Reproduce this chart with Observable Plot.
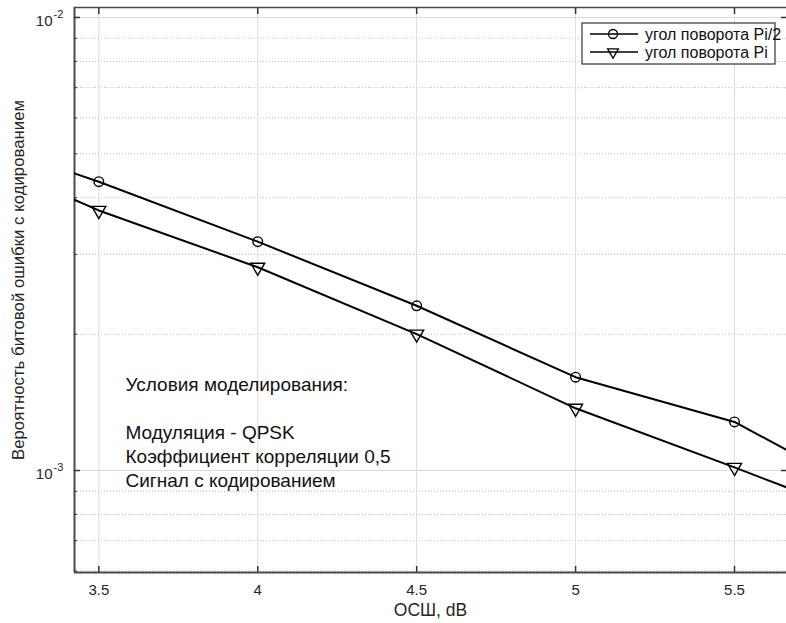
<!DOCTYPE html>
<html>
<head>
<meta charset="utf-8">
<script src="https://cdn.jsdelivr.net/npm/d3@7"></script>
<script src="https://cdn.jsdelivr.net/npm/@observablehq/plot@0.6"></script>
<style>
  html, body { margin: 0; padding: 0; background: #fff; }
  #chart { width: 786px; height: 623px; overflow: hidden; }
</style>
</head>
<body>
<div id="chart"></div>
<script>
// ---- data ----
const snr = [3.0, 3.5, 4.0, 4.5, 5.0, 5.5, 6.0];
const berPi2 = [5.71e-3, 4.34e-3, 3.20e-3, 2.31e-3, 1.607e-3, 1.28e-3, 8.3e-4];
const berPi = [5.35e-3, 3.75e-3, 2.81e-3, 2.00e-3, 1.372e-3, 1.016e-3, 7.45e-4];
const seriesNames = ["угол поворота Pi/2", "угол поворота Pi"];
const xTicks = [3.5, 4, 4.5, 5, 5.5];
const xTickLabels = ["3.5", "4", "4.5", "5", "5.5"];
const yMajor = [0.001, 0.01];
const yMajorExp = ["-3", "-2"];
const yMinor = [6e-4, 7e-4, 8e-4, 9e-4, 2e-3, 3e-3, 4e-3, 5e-3, 6e-3, 7e-3, 8e-3, 9e-3];
const xLabel = "ОСШ, dB";
const yLabel = "Вероятность битовой ошибки с кодированием";
const noteLines = ["Условия моделирования:", "", "Модуляция - QPSK", "Коэффициент корреляции 0,5", "Сигнал с кодированием"];

const xDomain = [3.4235, 5.6636];
const yDomain = [5.955e-4, 0.01052];

const rows = [];
snr.forEach((s, i) => {
  rows.push({snr: s, ber: berPi2[i], series: seriesNames[0]});
  rows.push({snr: s, ber: berPi[i], series: seriesNames[1]});
});
const pi2 = rows.filter(d => d.series === seriesNames[0]);
const pi = rows.filter(d => d.series === seriesNames[1]);

const FONT = "'Liberation Sans', Arial, Helvetica, sans-serif";
const AX = "#262626";

const tickOpts = {tickFormat: () => "", label: null, stroke: "#333"};

const chart = Plot.plot({
  width: 786,
  height: 623,
  marginLeft: 74,
  marginRight: 0,
  marginTop: 7,
  marginBottom: 51,
  style: {fontFamily: FONT, background: "#fff", color: AX},
  x: {domain: xDomain},
  y: {type: "log", domain: yDomain},
  marks: [
    // grids
    Plot.ruleY(yMinor, {stroke: "#b8b8b8", strokeWidth: 1, strokeDasharray: "1,2"}),
    Plot.ruleX(xTicks, {stroke: "#dcdcdc", strokeWidth: 1}),
    Plot.ruleY(yMajor, {stroke: "#dcdcdc", strokeWidth: 1}),
    // frame
    Plot.ruleX([xDomain[0]], {stroke: "#4a4a4a", strokeWidth: 2}),
    Plot.ruleY([yDomain[0]], {stroke: "#4a4a4a", strokeWidth: 2}),
    Plot.ruleY([yDomain[1]], {stroke: "#4a4a4a", strokeWidth: 1.5}),
    // inward ticks
    Plot.axisX({anchor: "bottom", ticks: xTicks, tickSize: -6, strokeWidth: 1.5, ...tickOpts}),
    Plot.axisX({anchor: "top", ticks: xTicks, tickSize: -6, strokeWidth: 1.5, ...tickOpts}),
    Plot.axisY({anchor: "left", ticks: yMajor, tickSize: -6, strokeWidth: 1.5, ...tickOpts}),
    Plot.axisY({anchor: "left", ticks: yMinor, tickSize: -3, strokeWidth: 1, ...tickOpts}),
    Plot.axisY({anchor: "right", ticks: yMajor, tickSize: -6, strokeWidth: 1.5, ...tickOpts}),
    // tick labels
    Plot.text(xTicks, {x: d => d, frameAnchor: "bottom", lineAnchor: "middle", dy: 18, text: (d, i) => xTickLabels[i], fontSize: 15, fill: AX}),
    Plot.text(yMajor, {y: d => d, frameAnchor: "left", lineAnchor: "middle", dx: -22, dy: 4, text: () => "10", textAnchor: "end", fontSize: 15, fill: AX}),
    Plot.text(yMajor, {y: d => d, frameAnchor: "left", lineAnchor: "middle", dx: -21, dy: -3, text: (d, i) => yMajorExp[i], textAnchor: "start", fontSize: 11, fill: AX}),
    // axis labels
    Plot.text([xLabel], {frameAnchor: "bottom", lineAnchor: "middle", textAnchor: "middle", dy: 38, fontSize: 17.5, fill: AX}),
    Plot.text([yLabel], {frameAnchor: "left", lineAnchor: "middle", textAnchor: "middle", dx: -56, dy: -10, rotate: -90, fontSize: 16.8, fill: AX}),
    // data
    Plot.line(pi2, {x: "snr", y: "ber", stroke: "#000", strokeWidth: 2, clip: true}),
    Plot.line(pi, {x: "snr", y: "ber", stroke: "#000", strokeWidth: 2, clip: true}),
    Plot.dot(pi2, {x: "snr", y: "ber", symbol: "circle", r: 4.8, stroke: "#000", fill: "none", strokeWidth: 1.4, clip: true}),
    Plot.dot(pi, {x: "snr", y: "ber", symbol: "triangle", r: 5.2, rotate: 180, stroke: "#000", fill: "none", strokeWidth: 1.4, clip: true}),
    // annotation
    Plot.text([noteLines.join("\n")], {frameAnchor: "top-left", dx: 51, dy: 424, lineAnchor: "middle", textAnchor: "start", lineHeight: 1.263, fontSize: 19, fill: "#111"})
  ]
});

// legend (layout box drawn onto the Plot SVG)
const svg = d3.select(chart);
const lg = svg.append("g").attr("font-family", FONT).attr("text-anchor", "start");
lg.append("rect").attr("x", 582).attr("y", 23).attr("width", 193).attr("height", 41)
  .attr("fill", "#fff").attr("stroke", "#333").attr("stroke-width", 1.2);
const sym = [d3.symbol(d3.symbolCircle, Math.PI * 4.5 * 4.5)(), d3.symbol(d3.symbolTriangle, 50)()];
seriesNames.forEach((name, i) => {
  const cy = 34 + i * 18;
  lg.append("line").attr("x1", 590).attr("x2", 638).attr("y1", cy).attr("y2", cy).attr("stroke", "#000").attr("stroke-width", 1.6);
  lg.append("path").attr("d", sym[i]).attr("transform", `translate(613,${cy}) rotate(${i ? 180 : 0})`)
    .attr("fill", "none").attr("stroke", "#000").attr("stroke-width", 1.3);
  lg.append("text").attr("x", 645).attr("y", cy).attr("dy", "0.35em").attr("text-anchor", "start")
    .attr("font-size", 16).attr("fill", "#111").text(name);
});

document.getElementById("chart").appendChild(chart);
</script>
</body>
</html>
